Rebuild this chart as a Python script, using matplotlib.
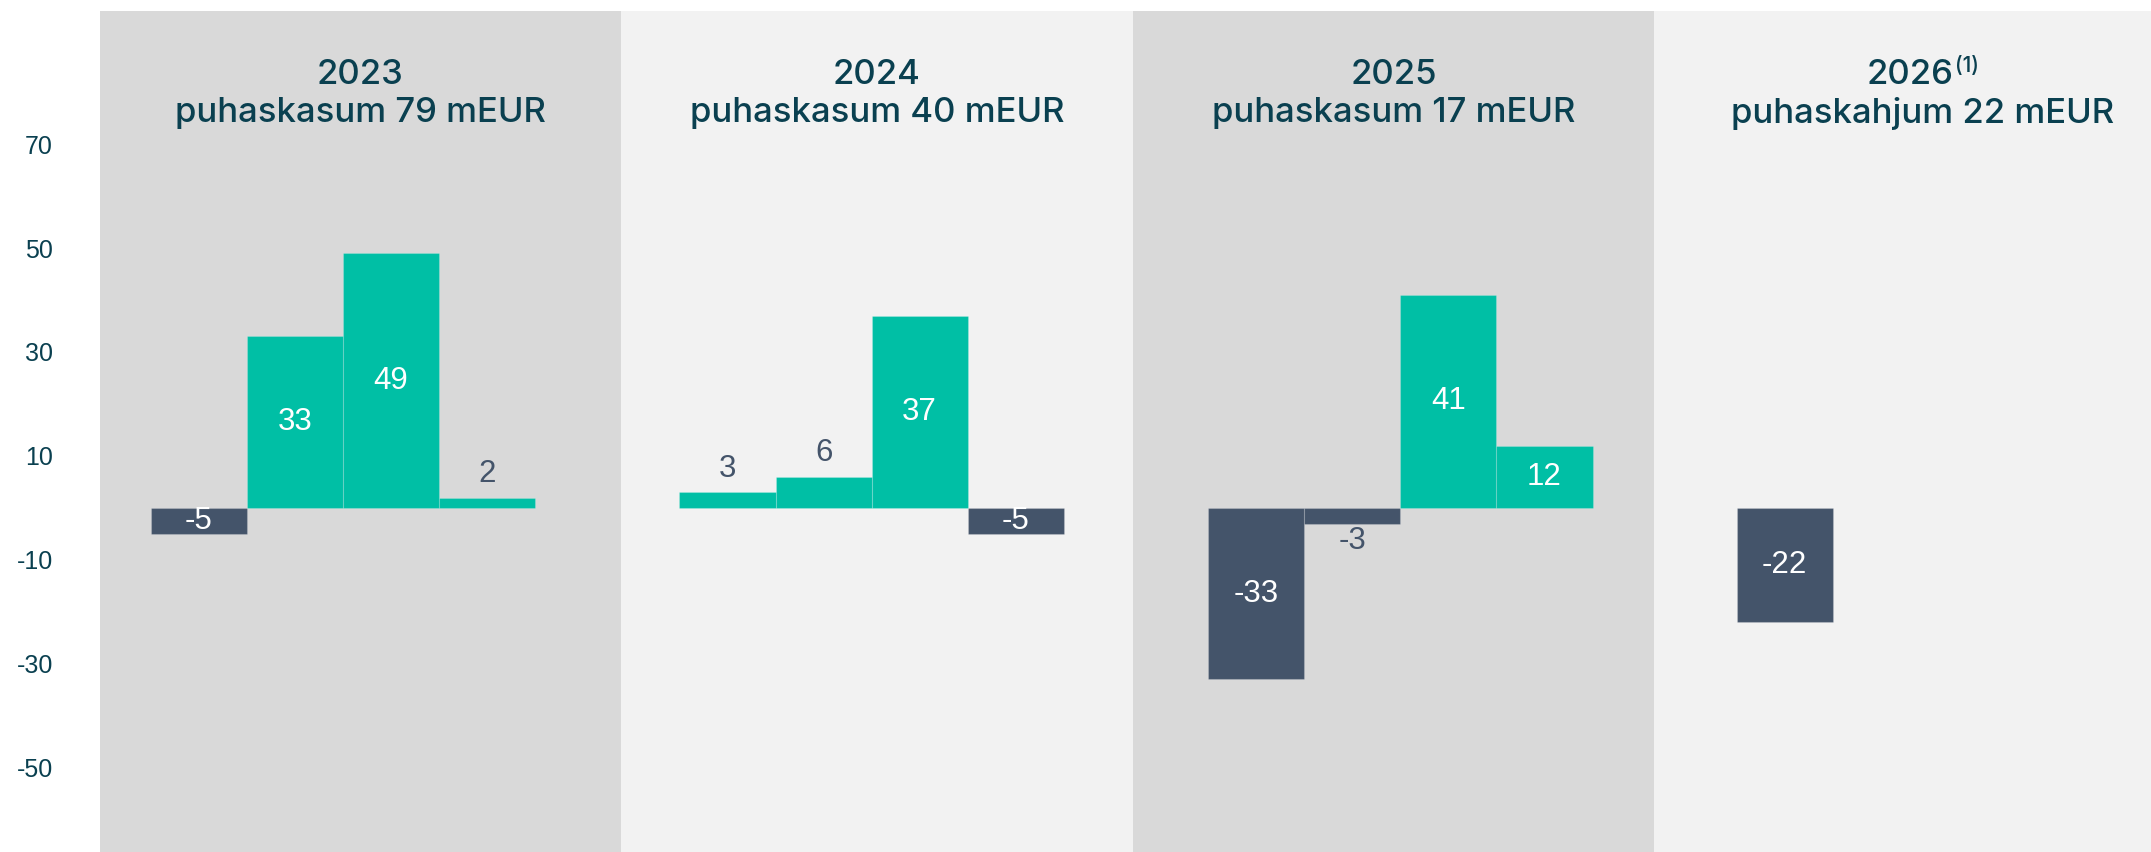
import matplotlib
matplotlib.use("Agg")
import matplotlib.pyplot as plt
from matplotlib import transforms

# ---- data ----
years = ["2023", "2024", "2025", "2026"]
year_notes = ["", "", "", "(1)"]
subtitles = ["puhaskasum 79 mEUR", "puhaskasum 40 mEUR",
             "puhaskasum 17 mEUR", "puhaskahjum 22 mEUR"]
values_2023 = [-5, 33, 49, 2]
values_2024 = [3, 6, 37, -5]
values_2025 = [-33, -3, 41, 12]
values_2026 = [-22]
groups = [values_2023, values_2024, values_2025, values_2026]
yticks = [70, 50, 30, 10, -10, -30, -50]

# ---- style ----
TEAL = "#00bfa5"
SLATE = "#44546a"
DARK = "#0a4050"
PANEL_COLORS = ["#d9d9d9", "#f2f2f2", "#d9d9d9", "#f2f2f2"]
GROUP_STRIDE = 5.5
panel_edges = [-1.03, 4.39, 9.72, 15.14, 20.72]
TITLE_FONT = ["Inter", "DejaVu Sans"]
NUM_FONT = ["Liberation Sans", "DejaVu Sans"]

W, H = 2151, 852
fig = plt.figure(figsize=(W / 100, H / 100), dpi=100)
ax = fig.add_axes([100 / W, 0, 1 - 100 / W, 1 - 11 / H])
ax.set_xlim(-1.028, 20.31)
ax.set_ylim(-66.2, 95.6)

for s in ax.spines.values():
    s.set_visible(False)
ax.set_xticks([])
ax.set_yticks(yticks)
ax.set_yticklabels([str(v) for v in yticks])
ax.tick_params(axis="y", length=0, pad=34, labelsize=18, labelcolor=DARK)
for lbl in ax.get_yticklabels():
    lbl.set_fontfamily(NUM_FONT)

# panels
for i in range(4):
    ax.axvspan(panel_edges[i], panel_edges[i + 1], color=PANEL_COLORS[i], zorder=0, lw=0)

# bars
for g, vals in enumerate(groups):
    xs = [g * GROUP_STRIDE + i for i in range(len(vals))]
    cols = [TEAL if v > 0 else SLATE for v in vals]
    bars = ax.bar(xs, vals, width=1.0, color=cols, edgecolor=(1, 1, 1, 0.18),
                  linewidth=0.8, zorder=2)
    for b, v in zip(bars, vals):
        cx = b.get_x() + b.get_width() / 2
        inside = v >= 10 or v <= -5
        if inside:
            ax.text(cx, v / 2, str(v), ha="center", va="center", color="white",
                    fontsize=22.5, family=NUM_FONT, zorder=3)
        elif v > 0:
            ax.annotate(str(v), (cx, v), xytext=(0, 6), textcoords="offset points",
                        ha="center", va="bottom", color=SLATE, fontsize=22.5,
                        family=NUM_FONT, zorder=3)
        else:
            ax.annotate(str(v), (cx, v), xytext=(0, -2), textcoords="offset points",
                        ha="center", va="top", color=SLATE, fontsize=22.5,
                        family=NUM_FONT, zorder=3)

# titles
trans = transforms.blended_transform_factory(ax.transData, ax.transAxes)
renderer = fig.canvas.get_renderer()
for i in range(4):
    cx = (panel_edges[i] + panel_edges[i + 1]) / 2
    y1 = 1 - (75 - 11) / (H - 11)
    y2 = 1 - (113 - 11) / (H - 11)
    ax.text(cx, y2, subtitles[i], transform=trans, ha="center", va="center",
            fontsize=25, color=DARK, family=TITLE_FONT, fontweight="medium")
    if year_notes[i]:
        t1 = ax.text(cx, y1, years[i], transform=trans, ha="left", va="center",
                     fontsize=25, color=DARK, family=TITLE_FONT, fontweight="medium")
        t2 = ax.annotate(year_notes[i], xy=(1, 1), xycoords=t1, xytext=(1, 2),
                         textcoords="offset points", ha="left", va="top",
                         fontsize=15, color=DARK, family=TITLE_FONT,
                         fontweight="medium")
        w1 = t1.get_window_extent(renderer).width
        w2 = t2.get_window_extent(renderer).width
        shift = -(w1 + w2) / 2
        t1.set_transform(transforms.offset_copy(trans, fig=fig, x=shift, units="dots"))
    else:
        ax.text(cx, y1, years[i], transform=trans, ha="center", va="center",
                fontsize=25, color=DARK, family=TITLE_FONT, fontweight="medium")

fig.savefig("out.png", dpi=100, facecolor="white")
